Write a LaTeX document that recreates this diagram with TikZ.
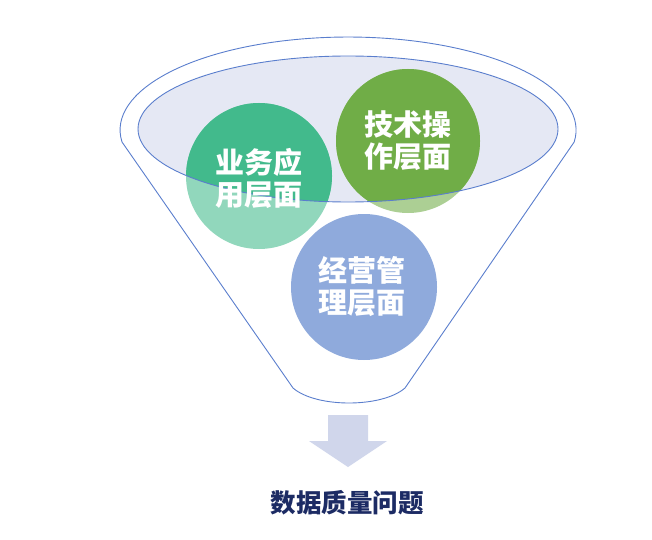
\documentclass[tikz,border=0pt]{standalone}
\usepackage{fontspec}
\newfontfamily\cjk{Noto Sans CJK SC}
\usepackage{tikz}
\usetikzlibrary{positioning, calc}
\definecolor{rim}{HTML}{5A7ECD}
\definecolor{lavender}{HTML}{E5E8F4}
\definecolor{mint}{HTML}{42BA8C}
\definecolor{leaf}{HTML}{70AD47}
\definecolor{sky}{HTML}{8FAADC}
\definecolor{arrowgrey}{HTML}{D0D6EB}
\definecolor{navy}{HTML}{1C2B64}
\tikzset{
  layertext/.style={text=white, font=\cjk\bfseries\fontsize{29}{32}\selectfont, align=center},
}

\begin{document}
\begin{tikzpicture}[x=1pt, y=1pt]
    \useasboundingbox (0,0) rectangle (652,539);
    % Trichter: oberer Rand, Flanken, Boden
    \draw[rim, line width=0.9pt] (122,397) arc[start angle=187.4, end angle=-7.4, x radius=228, y radius=93]
      -- (405,151) .. controls (382,131) and (316,131) .. (293,151) -- cycle;
    % Oeffnung
    \fill[lavender] (348,410) ellipse[x radius=210, y radius=73];
    % Kreise, hell ausserhalb der Oeffnung
    \fill[mint!58] (259,363) circle (73);
    \fill[leaf!58] (408,398) circle (72);
    \fill[sky] (364,252) circle (73);
    % innerhalb der Oeffnung kraeftig
    \begin{scope}
      \clip (348,410) ellipse[x radius=210, y radius=73];
      \fill[mint] (259,363) circle (73);
      \fill[leaf] (408,398) circle (72);
    \end{scope}
    \draw[rim, line width=0.9pt] (348,410) ellipse[x radius=210, y radius=73];
    % Beschriftung der Ebenen
    \node[layertext] (yewu) at (259,361) {业务应\\用层面};
    \node[layertext] (jishu) at (408,398) {技术操\\作层面};
    \node[layertext] (jingying) at (362,252) {经营管\\理层面};
    % Pfeil nach unten
    \fill[arrowgrey] (328,124) -- (368,124) -- (368,98) -- (387,98) -- (348,72)
      -- (309,98) -- (328,98) -- cycle;
    \node[text=navy, font=\cjk\bfseries\fontsize{25.5}{28}\selectfont] (wenti) at (347,36) {数据质量问题};
  \end{tikzpicture}
\end{document}
